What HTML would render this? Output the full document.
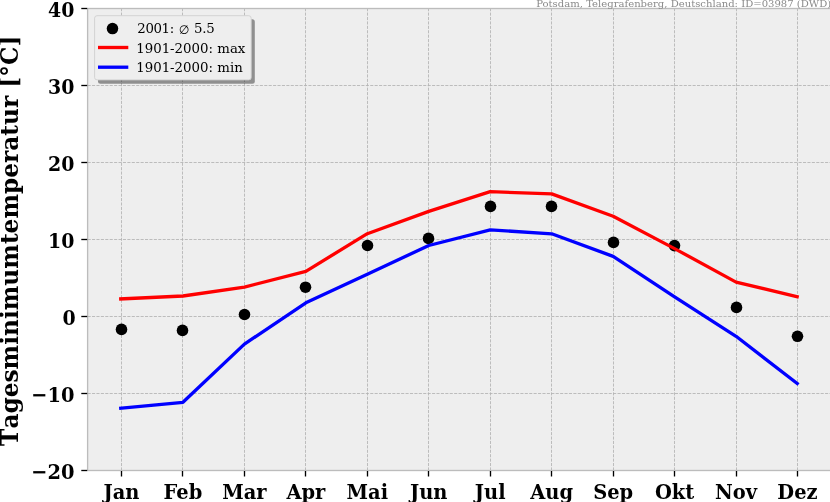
<!DOCTYPE html>
<html lang="de"><head><meta charset="utf-8"><title>Tagesminimumtemperatur Potsdam 2001</title>
<style>
html,body{margin:0;padding:0;background:#fff;}
body{width:830px;height:502px;overflow:hidden;}
svg{display:block;}
text{font-family:"DejaVu Serif","Liberation Serif",serif;}
.tick{font-weight:bold;font-size:19.44px;fill:#000;}
.leg{font-size:13.33px;fill:#000;}
.ttl{font-size:10.07px;fill:#8a8a8a;}
.yl{font-weight:bold;font-size:23.25px;fill:#000;font-kerning:none;}
</style></head><body>
<svg width="830" height="502" viewBox="0 0 830 502">
<rect x="0" y="0" width="830" height="502" fill="#ffffff"/>
<rect x="87.6" y="8.5" width="752.4" height="462.0" fill="#eeeeee"/>
<g stroke="#b2b2b2" stroke-width="0.83" stroke-dasharray="3.086 1.33" fill="none">
<line x1="121.50" y1="470.5" x2="121.50" y2="8.5"/>
<line x1="182.50" y1="470.5" x2="182.50" y2="8.5"/>
<line x1="244.50" y1="470.5" x2="244.50" y2="8.5"/>
<line x1="305.50" y1="470.5" x2="305.50" y2="8.5"/>
<line x1="367.50" y1="470.5" x2="367.50" y2="8.5"/>
<line x1="428.50" y1="470.5" x2="428.50" y2="8.5"/>
<line x1="490.50" y1="470.5" x2="490.50" y2="8.5"/>
<line x1="551.50" y1="470.5" x2="551.50" y2="8.5"/>
<line x1="613.50" y1="470.5" x2="613.50" y2="8.5"/>
<line x1="674.50" y1="470.5" x2="674.50" y2="8.5"/>
<line x1="736.50" y1="470.5" x2="736.50" y2="8.5"/>
<line x1="797.50" y1="470.5" x2="797.50" y2="8.5"/>
<line x1="87.6" y1="470.50" x2="840" y2="470.50"/>
<line x1="87.6" y1="393.50" x2="840" y2="393.50"/>
<line x1="87.6" y1="316.50" x2="840" y2="316.50"/>
<line x1="87.6" y1="239.50" x2="840" y2="239.50"/>
<line x1="87.6" y1="162.50" x2="840" y2="162.50"/>
<line x1="87.6" y1="85.50" x2="840" y2="85.50"/>
<line x1="87.6" y1="8.50" x2="840" y2="8.50"/>
</g>
<g fill="#000000">
<circle cx="121.50" cy="329.40" r="5.8"/>
<circle cx="182.50" cy="330.40" r="5.8"/>
<circle cx="244.50" cy="314.50" r="5.8"/>
<circle cx="305.50" cy="287.20" r="5.8"/>
<circle cx="367.50" cy="245.50" r="5.8"/>
<circle cx="428.50" cy="238.40" r="5.8"/>
<circle cx="490.50" cy="206.40" r="5.8"/>
<circle cx="551.50" cy="206.40" r="5.8"/>
<circle cx="613.50" cy="242.40" r="5.8"/>
<circle cx="674.50" cy="245.60" r="5.8"/>
<circle cx="736.50" cy="307.40" r="5.8"/>
<circle cx="797.50" cy="336.30" r="5.8"/>
</g>
<polyline points="119.10,299.01 182.95,296.00 244.41,287.10 305.86,271.30 367.32,233.70 428.77,211.40 490.23,191.70 551.68,193.90 613.14,216.30 674.59,248.60 736.05,282.10 798.76,297.10" fill="none" stroke="#ff0000" stroke-width="3.33" stroke-linecap="butt" stroke-linejoin="round"/>
<polyline points="119.11,408.33 182.95,402.30 244.41,344.10 305.86,302.80 367.32,274.20 428.77,245.50 490.23,229.90 551.68,233.80 613.14,256.40 674.59,296.80 736.05,336.30 798.53,384.49" fill="none" stroke="#0000ff" stroke-width="3.33" stroke-linecap="butt" stroke-linejoin="round"/>
<rect x="87.6" y="8.5" width="752.4" height="462.0" fill="none" stroke="#bcbcbc" stroke-width="1.33"/>
<g stroke="#000000" stroke-width="1.33">
<line x1="121.50" y1="471.0" x2="121.50" y2="476.5"/>
<line x1="182.50" y1="471.0" x2="182.50" y2="476.5"/>
<line x1="244.50" y1="471.0" x2="244.50" y2="476.5"/>
<line x1="305.50" y1="471.0" x2="305.50" y2="476.5"/>
<line x1="367.50" y1="471.0" x2="367.50" y2="476.5"/>
<line x1="428.50" y1="471.0" x2="428.50" y2="476.5"/>
<line x1="490.50" y1="471.0" x2="490.50" y2="476.5"/>
<line x1="551.50" y1="471.0" x2="551.50" y2="476.5"/>
<line x1="613.50" y1="471.0" x2="613.50" y2="476.5"/>
<line x1="674.50" y1="471.0" x2="674.50" y2="476.5"/>
<line x1="736.50" y1="471.0" x2="736.50" y2="476.5"/>
<line x1="797.50" y1="471.0" x2="797.50" y2="476.5"/>
<line x1="87.2" y1="470.50" x2="81.3" y2="470.50"/>
<line x1="87.2" y1="393.50" x2="81.3" y2="393.50"/>
<line x1="87.2" y1="316.50" x2="81.3" y2="316.50"/>
<line x1="87.2" y1="239.50" x2="81.3" y2="239.50"/>
<line x1="87.2" y1="162.50" x2="81.3" y2="162.50"/>
<line x1="87.2" y1="85.50" x2="81.3" y2="85.50"/>
<line x1="87.2" y1="8.50" x2="81.3" y2="8.50"/>
</g>
<g class="tick" text-anchor="middle">
<text transform="translate(121.50 498.5) scale(1 1.07)">Jan</text>
<text transform="translate(182.95 498.5) scale(1 1.07)">Feb</text>
<text transform="translate(244.41 498.5) scale(1 1.07)">Mar</text>
<text transform="translate(305.86 498.5) scale(1 1.07)">Apr</text>
<text transform="translate(367.32 498.5) scale(1 1.07)">Mai</text>
<text transform="translate(428.77 498.5) scale(1 1.07)">Jun</text>
<text transform="translate(490.23 498.5) scale(1 1.07)">Jul</text>
<text transform="translate(551.68 498.5) scale(1 1.07)">Aug</text>
<text transform="translate(613.14 498.5) scale(1 1.07)">Sep</text>
<text transform="translate(674.59 498.5) scale(1 1.07)">Okt</text>
<text transform="translate(736.05 498.5) scale(1 1.07)">Nov</text>
<text transform="translate(797.50 498.5) scale(1 1.07)">Dez</text>
</g>
<g class="tick" text-anchor="end">
<text transform="translate(74.6 478.50) scale(1.0 1.073)">−20</text>
<text transform="translate(74.6 401.50) scale(1.0 1.073)">−10</text>
<text transform="translate(75.7 324.50) scale(0.975 1.073)">0</text>
<text transform="translate(74.3 248.30) scale(0.975 1.073)">10</text>
<text transform="translate(74.3 171.30) scale(0.975 1.073)">20</text>
<text transform="translate(74.4 93.50) scale(0.975 1.073)">30</text>
<text transform="translate(74.4 16.50) scale(0.975 1.073)">40</text>
</g>
<text class="yl" text-anchor="middle" transform="translate(18.2 240.7) rotate(-90)">Tagesminimumtemperatur [°C]</text>
<text class="ttl" text-anchor="end" transform="translate(831.2 6.7) scale(1 0.95)">Potsdam, Telegrafenberg, Deutschland: ID=03987 (DWD)</text>
<rect x="98.0" y="19.3" width="156.8" height="64.4" rx="2.5" ry="2.5" fill="#000000" fill-opacity="0.4"/>
<rect x="94.6" y="15.7" width="156.6" height="64.2" rx="2.5" ry="2.5" fill="#eeeeee" stroke="#cfcfcf" stroke-width="0.9"/>
<circle cx="112.5" cy="28.6" r="5.75" fill="#000"/>
<line x1="98" y1="47.5" x2="128.3" y2="47.5" stroke="#ff0000" stroke-width="3.33"/>
<line x1="98" y1="67.2" x2="128.3" y2="67.2" stroke="#0000ff" stroke-width="3.33"/>
<g class="leg">
<text y="32.9"><tspan x="137.3" letter-spacing="-0.38">2001:</tspan> <tspan x="178.8" dy="1.05" font-family="DejaVu Sans, sans-serif" font-size="12">∅</tspan> <tspan x="193.9" dy="-1.05" letter-spacing="-0.12">5.5</tspan></text>
<text x="136.2" y="52.7">1901-2000: max</text>
<text x="136.2" y="72.0">1901-2000: min</text>
</g>
</svg>
</body></html>
